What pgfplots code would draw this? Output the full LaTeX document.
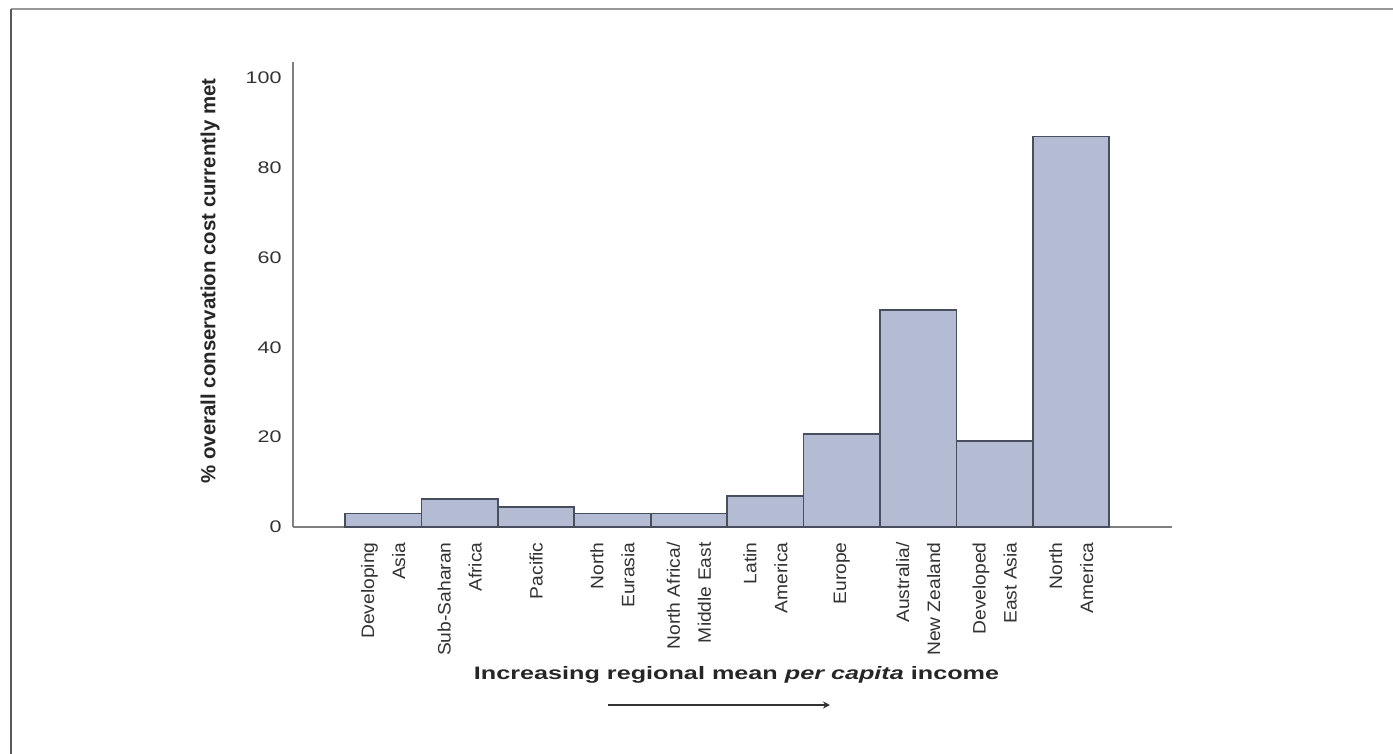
\documentclass[border=0pt]{standalone}
\usepackage{fontspec}
\setmainfont{Liberation Sans}
\usepackage{pgfplots}
\pgfplotsset{compat=1.18}
\usetikzlibrary{arrows.meta}
\newfontfamily\tickfont[FakeStretch=1.28]{Liberation Sans}
\newfontfamily\catfont[FakeStretch=1.07]{Liberation Sans}
\newfontfamily\xlabfont[FakeStretch=1.4]{Liberation Sans}
\definecolor{barfill}{HTML}{B4BCD4}
\definecolor{baredge}{HTML}{474E5E}
\definecolor{axgray}{HTML}{7F7F7F}
\begin{document}
\begin{tikzpicture}
\path[use as bounding box] (0,0) rectangle (696.5pt,-377pt);
\fill[white] (0,0) rectangle (696.5pt,-377pt);
\draw[color=black!40, line width=1pt] (5.5pt,-4.75pt) -- (696.5pt,-4.75pt);
\draw[color=black!65, line width=1pt] (5.5pt,-4.75pt) -- (5.5pt,-377pt);
\begin{axis}[
  at={(146.5pt,-263.5pt)}, anchor=south west,
  scale only axis, width=439.5pt, height=232.5pt,
  xmin=-1.18, xmax=10.32, ymin=0, ymax=103.5,
  axis x line=bottom, axis y line=left,
  axis line style={-, axgray, line width=0.8pt},
  major tick length=0pt,
  xtick={0,1,2,3,4,5,6,7,8,9},
  xticklabels={Developing\\Asia, Sub-Saharan\\Africa, Pacific, North\\Eurasia, North Africa/\\Middle East, Latin\\America, Europe, Australia/\\New Zealand, Developed\\East Asia, North\\America},
  xticklabel shift=7.5pt,
  x tick label style={rotate=90, anchor=east, align=right, inner sep=0pt, font=\catfont\fontsize{9}{15.5}\selectfont, text=black!80},
  ytick={0,20,40,60,80,100},
  yticklabels={0,20,40,60,80,100},
  yticklabel shift=5.5pt,
  y tick label style={anchor=east, inner sep=0pt, font=\tickfont\fontsize{8.4}{10}\selectfont, text=black!80},
  ylabel={\% overall conservation cost currently met},
  ylabel style={font=\bfseries\fontsize{10.2}{12}\selectfont, at={(axis description cs:-0.0944,0.529)}, anchor=center, text=black!85},
  xlabel={Increasing regional mean \textit{per capita} income},
  xlabel style={font=\xlabfont\bfseries\fontsize{9}{11}\selectfont, at={(axis description cs:0.5046,-0.318)}, anchor=center, text=black!85},
  clip=false,
]
\addplot[ybar, bar width=1, fill=barfill, draw=baredge, line width=0.9pt]
  coordinates {(0,3.0) (1,6.2) (2,4.5) (3,3.0) (4,3.0) (5,6.9) (6,20.7) (7,48.3) (8,19.2) (9,86.9)};
\draw[-{Stealth[length=3.5pt,width=3.5pt]}, line width=1.4pt, black!80]
  (axis description cs:0.3584,-0.3828) -- (axis description cs:0.6109,-0.3828);
\end{axis}
\end{tikzpicture}
\end{document}
